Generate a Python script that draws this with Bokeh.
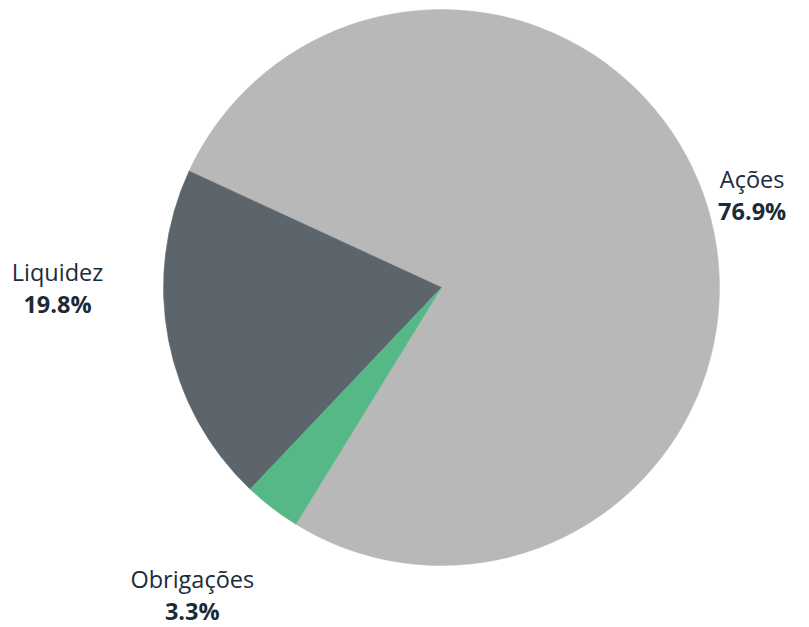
import math
from bokeh.plotting import figure
from bokeh.models import ColumnDataSource
from bokeh.core.properties import value
from bokeh.embed import file_html
from bokeh.resources import INLINE

# ---- data ----
categories = ["Ações", "Liquidez", "Obrigações"]
shares = [76.9, 19.8, 3.3]
colors = ["#b8b8b8", "#5b656b", "#57b887"]

# ---- layout ----
W, H = 809, 627
cx, cy, R = 441, 340, 278
start_deg = 238.4
# label anchor polar positions (deg, px from centre)
label_polar = [(16.5, 324), (180.0, 384), (231.0, 396)]

total = sum(shares)
starts, ends = [], []
a = math.radians(start_deg)
for s in shares:
    starts.append(a)
    a += s / total * 2 * math.pi
    ends.append(a)

src = ColumnDataSource(dict(start=starts, end=ends, color=colors, cat=categories))

p = figure(width=W, height=H, x_range=(0, W), y_range=(0, H),
           output_backend="svg", toolbar_location=None, min_border=0,
           outline_line_color=None, background_fill_color="white",
           border_fill_color="white")
p.axis.visible = False
p.grid.visible = False

p.wedge(x=cx, y=cy, radius=R, start_angle="start", end_angle="end",
        direction="anticlock", fill_color="color", line_color="color",
        line_width=0.5, source=src)

lx, ly = [], []
for ang, d in label_polar:
    lx.append(cx + d * math.cos(math.radians(ang)))
    ly.append(cy + d * math.sin(math.radians(ang)))

name_src = ColumnDataSource(dict(x=lx, y=[v + 16 for v in ly], t=categories))
pct_src = ColumnDataSource(dict(x=lx, y=[v - 16 for v in ly],
                                t=[f"{s:.1f}%" for s in shares]))

p.text(x="x", y="y", text="t", source=name_src, text_align="center",
       text_baseline="middle", text_font=value("Open Sans"),
       text_font_size="23.5px", text_color="#1c2b39")
p.text(x="x", y="y", text="t", source=pct_src, text_align="center",
       text_baseline="middle", text_font=value("Open Sans"),
       text_font_size="23.5px", text_font_style="bold", text_color="#1c2b39")

open("out.html", "w").write(file_html(p, INLINE))
